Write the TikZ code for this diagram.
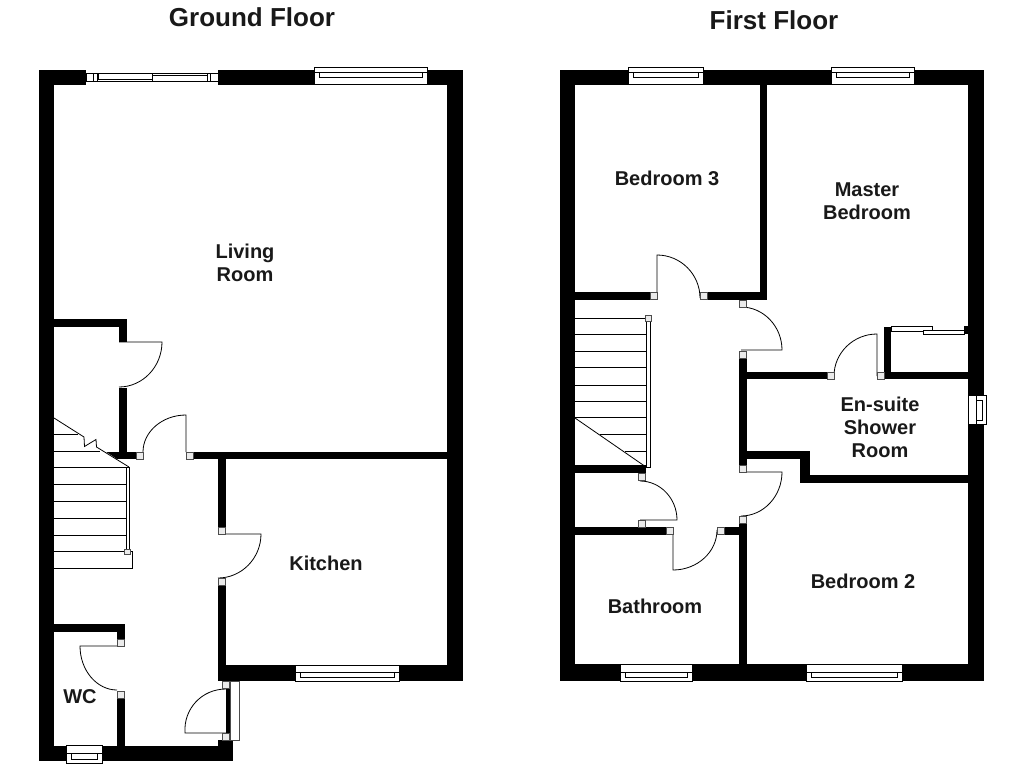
\documentclass[tikz,border=0pt]{standalone}
\usepackage{fontspec}
\setmainfont{Liberation Sans}
\tikzset{
    wall/.style={fill=black},
    thinline/.style={draw=black, line width=0.8},
    frameline/.style={draw=black, line width=0.9, fill=white},
    pivot/.style={draw=black!70, line width=0.5, fill=black!8},
    roomlabel/.style={font=\bfseries\fontsize{20}{23}\selectfont, align=center, text=black!90},
    floorlabel/.style={font=\bfseries\fontsize{26}{29}\selectfont, text=black!90}
}
% door leaf and swing: hinge, tip, end of the arc
\newcommand{\doorleaf}[6]{\draw[thinline] (#1,#2) -- (#3,#4) .. controls ({#3+.55*(#5-#1)},{#4+.55*(#6-#2)}) and ({#5+.55*(#3-#1)},{#6+.55*(#4-#2)}) .. (#5,#6);}
% window: corners, two slit lines, inset of the slit
\newcommand{\windowbox}[6]{
        \fill[white] (#1,#2) rectangle (#3,#4);
        \draw[frameline] (#1,#2) rectangle (#3,#4);
        \draw[thinline] (#1,#5) -- (#3,#5);
        \draw[frameline] ({#1+5},#5) rectangle ({#3-5},#6);
}
\newcommand{\hingebox}[2]{\draw[pivot] (#1,#2) rectangle ++(7,7);}
\begin{document}
\begin{tikzpicture}[x=1pt,y=-1pt]
        \useasboundingbox[fill=white] (0,0) rectangle (1024,768);

        % ground floor walls
        \fill[wall] (39,70) rectangle (463,85);
        \fill[wall] (39,70) rectangle (54,761);
        \fill[wall] (447,70) rectangle (463,681);
        \fill[wall] (218,665) rectangle (463,681);
        \fill[wall] (39,746) rectangle (233,761);
        \fill[wall] (218,740) rectangle (233,761);
        \fill[wall] (54,319) rectangle (127,327);
        \fill[wall] (119,319) rectangle (127,342);
        \fill[wall] (119,388) rectangle (127,459);
        \fill[wall] (105,452) rectangle (137,459);
        \fill[wall] (190,452) rectangle (447,459);
        \fill[wall] (218,452) rectangle (226,530);
        \fill[wall] (218,582) rectangle (226,681);
        \fill[wall] (54,624) rectangle (125,632);
        \fill[wall] (117,624) rectangle (125,640);
        \fill[wall] (117,695) rectangle (125,746);
        \fill[wall] (226,688) rectangle (230,734);

        % ground floor stairs
        \fill[white] (54,418) -- (129,467) -- (105,467) -- (54,467);
        \draw[thinline] (54,434) -- (78,434);
        \draw[thinline] (54,451) -- (100,451);
        \foreach \stairy in {467,484,501,518,535} {
            \draw[thinline] (54,\stairy) -- (126,\stairy);
        }
        \draw[thinline] (54,418) -- (84,437) -- (84.5,446.5) -- (96,439.5) -- (96.5,447) -- (129,467);
        \draw[frameline] (126,467) rectangle (129,551);
        \draw[thinline] (54,551) -- (132,551) -- (132,568) -- (54,568);

        % ground floor windows
        \fill[white] (86,69) rectangle (218,86);
        \draw[frameline] (86,73) rectangle (218,81);
        \draw[thinline] (93,73) -- (93,81) (97,73) -- (97,81) (207,73) -- (207,81) (210,73) -- (210,81);
        \draw[frameline] (98,73.5) rectangle (152,79.5);
        \draw[frameline] (152,75) rectangle (207,81);
        \windowbox{314}{67}{427}{84}{72}{77}
        \windowbox{295}{665}{399}{681}{672}{677}
        \windowbox{66}{745}{102}{763}{753}{759}
        \draw[draw=black!70, line width=0.8, fill=white] (230,681) rectangle (239,740);

        % ground floor doors
        \doorleaf{119}{342}{162}{342}{119}{387}
        \doorleaf{186}{452}{186}{415}{143}{452}
        \doorleaf{218}{534}{261}{534}{218}{578}
        \doorleaf{117}{646}{80}{646}{117}{690}
        \doorleaf{229}{733}{185}{733}{226}{689}
        \hingebox{136}{452}
        \hingebox{186}{452}
        \hingebox{218}{527}
        \hingebox{218}{578}
        \hingebox{117}{639}
        \hingebox{117}{691}
        \hingebox{222}{681}
        \hingebox{222}{733}
        \draw[pivot] (124.5,549) rectangle (130,554);

        % first floor walls
        \fill[wall] (560,70) rectangle (984,85);
        \fill[wall] (560,70) rectangle (575,681);
        \fill[wall] (968,70) rectangle (984,681);
        \fill[wall] (560,664) rectangle (984,681);
        \fill[wall] (575,292) rectangle (650,300);
        \fill[wall] (707,292) rectangle (767,300);
        \fill[wall] (760,85) rectangle (767,300);
        \fill[wall] (739,356) rectangle (747,467);
        \fill[wall] (747,372) rectangle (828,379);
        \fill[wall] (884,372) rectangle (968,379);
        \fill[wall] (884,327) rectangle (891,379);
        \fill[wall] (964,326) rectangle (968,334);
        \fill[wall] (747,451) rectangle (810,459);
        \fill[wall] (800,451) rectangle (810,483);
        \fill[wall] (800,475) rectangle (968,483);
        \fill[wall] (739,520) rectangle (747,664);
        \fill[wall] (575,465) rectangle (646,473);
        \fill[wall] (575,527) rectangle (667,535);
        \fill[wall] (723,527) rectangle (739,535);

        % first floor stairs
        \foreach \stairy in {318,334,351,367,385,401,417} {
            \draw[thinline] (575,\stairy) -- (646,\stairy);
        }
        \draw[thinline] (600,434) -- (646,434);
        \draw[thinline] (625,451) -- (646,451);
        \draw[thinline] (575,418) -- (646,467);
        \draw[frameline] (646,318) rectangle (650,467);
        \draw[pivot] (645,315) rectangle (651,321);

        % first floor windows
        \windowbox{628}{67}{703}{84}{72}{77}
        \windowbox{831}{67}{914}{84}{72}{77}
        \windowbox{620}{664}{692}{681}{672}{677}
        \windowbox{806}{664}{902}{681}{672}{677}
        \draw[frameline] (968,395) rectangle (986,424);
        \draw[thinline] (976,395) -- (976,424);
        \draw[frameline] (976,400) rectangle (982,420);
        \draw[frameline] (891,326) rectangle (932,331);
        \draw[frameline] (923,330) rectangle (964,334);

        % first floor doors
        \doorleaf{657}{298}{657}{255}{700}{298}
        \doorleaf{741}{350}{782}{350}{741}{307}
        \doorleaf{877}{376}{877}{334}{834}{376}
        \doorleaf{741}{472}{782}{472}{741}{516}
        \doorleaf{640}{520}{677}{520}{640}{481}
        \doorleaf{673}{530}{673}{570}{717}{530}
        \hingebox{650}{292}
        \hingebox{700}{292}
        \hingebox{739}{300}
        \hingebox{739}{351}
        \hingebox{827}{372}
        \hingebox{877}{372}
        \hingebox{739}{465}
        \hingebox{739}{516}
        \hingebox{638}{473}
        \hingebox{638}{520}
        \hingebox{666}{527}
        \hingebox{717}{527}

        % labels
        \node[floorlabel] (groundtitle) at (252,17) {Ground Floor};
        \node[floorlabel] (firsttitle) at (774,20) {First Floor};
        \node[roomlabel] (living) at (245,263) {Living\\Room};
        \node[roomlabel] (kitchen) at (326,563) {Kitchen};
        \node[roomlabel] (wc) at (80,697) {WC};
        \node[roomlabel] (bedroomthree) at (667,178) {Bedroom 3};
        \node[roomlabel] (master) at (867,201) {Master\\Bedroom};
        \node[roomlabel] (ensuite) at (880,427) {En-suite\\Shower\\Room};
        \node[roomlabel] (bedroomtwo) at (863,581) {Bedroom 2};
        \node[roomlabel] (bathroom) at (655,606) {Bathroom};
\end{tikzpicture}
\end{document}
